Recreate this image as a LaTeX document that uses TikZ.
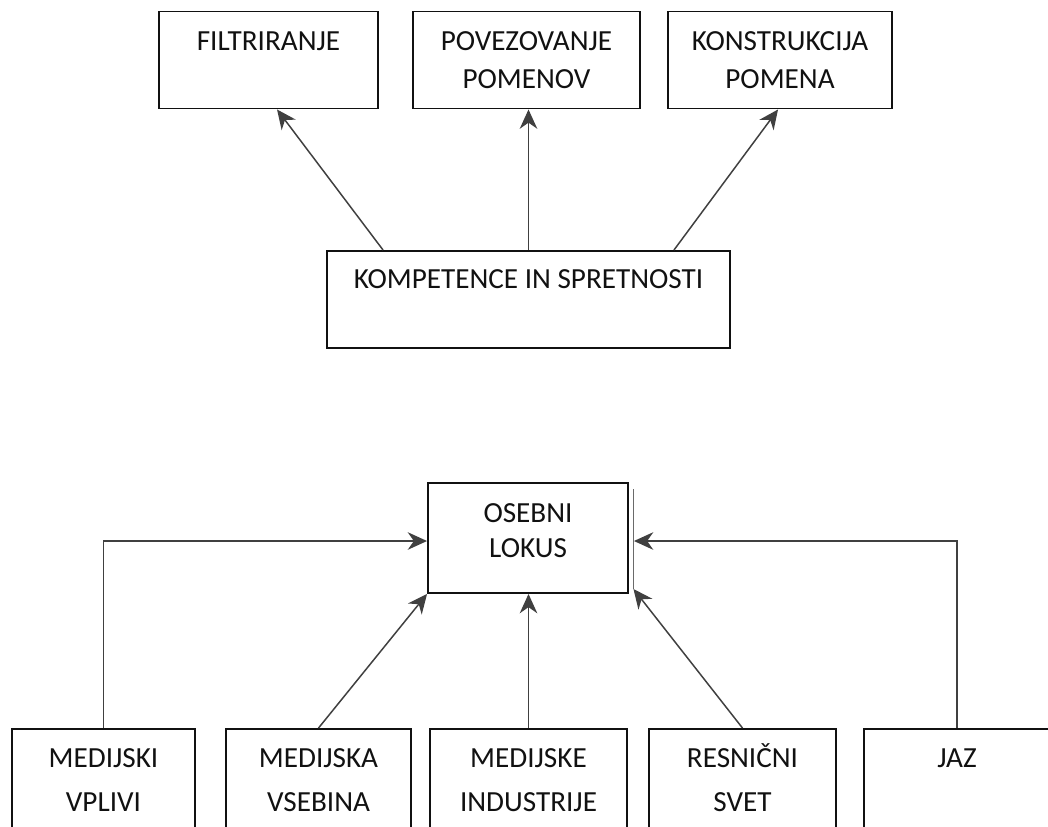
\documentclass[tikz,border=0pt]{standalone}
\usepackage{fontspec}
\setmainfont{Carlito}
\usetikzlibrary{arrows.meta,positioning}
\definecolor{ink}{HTML}{111111}
\definecolor{wire}{HTML}{404040}
\definecolor{shade}{HTML}{6A6A6A}
\tikzset{
  box/.style={draw=ink, line width=1.1pt, inner sep=0pt},
  txt/.style={font=\fontsize{16.6}{19}\selectfont, text=ink, anchor=base, inner sep=0pt},
  link/.style={draw=wire, line width=0.85pt, -{Stealth[length=11pt,width=10pt,inset=3.5pt]}},
}

\begin{document}
\begin{tikzpicture}[x=0.02cm,y=-0.02cm]
  \useasboundingbox (0,0) rectangle (1048,826);
  \clip (0,0) rectangle (1048,826);
  % top row
  \foreach \n/\cx/\w/\la/\lb in {
     filt/268.5/4.38/{FILTRIRANJE}/{},
     povez/526.5/4.54/{POVEZOVANJE}/{POMENOV},
     konstr/780/4.48/{KONSTRUKCIJA}/{POMENA}}
  {
    \node[box, minimum width=\w cm, minimum height=1.94cm] (\n) at (\cx,60) {};
    \node[txt] (\n-a) at (\cx,50) {\la};
    \node[txt] (\n-b) at (\cx,88) {\lb};
  }
  \node[box, minimum width=8.06cm, minimum height=1.94cm] (komp) at (528.5,299.5) {};
  \node[txt] (komp-a) at (528.5,288) {KOMPETENCE IN SPRETNOSTI};
  \draw[link] ([xshift=1.14cm]komp.north west) -- ([xshift=2.38cm]filt.south west);
  \draw[link] (komp.north) -- (komp.north |- povez.south);
  \draw[link] ([xshift=-1.14cm]komp.north east) -- ([xshift=2.22cm]konstr.south west);
  % bottom part
  \node[box, minimum width=4cm, minimum height=2.2cm] (lokus) at (528,538) {};
  \draw[draw=shade, line width=1pt] ([xshift=0.09cm,yshift=-0.14cm]lokus.north east) -- ([xshift=0.09cm,yshift=0.1cm]lokus.south east);
  \node[txt] (lokus-a) at (528,522) {OSEBNI};
  \node[txt] (lokus-b) at (528,557) {LOKUS};
  \foreach \n/\cx/\w/\la/\lb in {
     med1/103.5/3.66/{MEDIJSKI}/{VPLIVI},
     med2/318.5/3.70/{MEDIJSKA}/{VSEBINA},
     med3/528.5/3.94/{MEDIJSKE}/{INDUSTRIJE},
     med4/742.5/3.74/{RESNIČNI}/{SVET},
     med5/957/3.72/{JAZ}/{}}
  {
    \node[box, minimum width=\w cm, minimum height=2.42cm] (\n) at (\cx,789.5) {};
    \node[txt] (\n-a) at (\cx,767) {\la};
    \node[txt] (\n-b) at (\cx,811) {\lb};
  }
  \draw[link] (med1.north) |- ([yshift=-0.06cm]lokus.west);
  \draw[link] (med2.north) -- (lokus.south west);
  \draw[link] (med3.north) -- (med3.north |- lokus.south);
  \draw[link] (med4.north) -- ([shift={(0.09cm,0.1cm)}]lokus.south east);
  \draw[link] (med5.north) |- ([xshift=0.1cm,yshift=-0.06cm]lokus.east);
\end{tikzpicture}
\end{document}
